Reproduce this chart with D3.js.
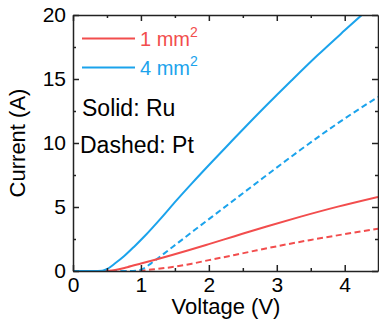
<!DOCTYPE html>
<html>
<head>
<meta charset="utf-8">
<script src="https://cdn.jsdelivr.net/npm/d3@7"></script>
<style>
  body { margin: 0; background: #fff; }
  text { font-family: "Liberation Sans", Arial, sans-serif; }
</style>
</head>
<body>
<script>
// values
const ruBigV = [0, 0.3, 0.43, 0.5, 0.62, 0.75, 0.9, 1.06, 1.3, 1.52, 1.75, 2.04, 2.31, 2.7, 3.0, 3.22, 3.6, 4.0, 4.25];
const ruBigI = [0, 0, 0.02, 0.15, 0.6, 1.15, 1.9, 2.75, 4.15, 5.5, 6.85, 8.5, 10.0, 12.15, 13.75, 14.9, 16.85, 18.8, 20];
const ptBigV = [0, 0.85, 0.92, 1.01, 1.15, 1.3, 1.55, 1.79, 2.05, 2.33, 2.8, 3.34, 3.9, 4.49];
const ptBigI = [0, 0, 0.02, 0.12, 0.6, 1.2, 2.22, 3.2, 4.25, 5.38, 7.28, 9.43, 11.55, 13.6];
const ruSmallV = [0, 0.45, 0.52, 0.62, 0.8, 1.0, 1.21, 1.7, 2.0, 2.38, 2.85, 3.34, 3.9, 4.49];
const ruSmallI = [0, 0, 0.02, 0.08, 0.3, 0.58, 0.88, 1.62, 2.1, 2.72, 3.48, 4.23, 5.03, 5.79];
const ptSmallV = [0, 0.88, 1.0, 1.2, 1.5, 1.75, 2.0, 2.38, 2.71, 3.0, 3.5, 4.0, 4.49];
const ptSmallI = [0, 0, 0.03, 0.14, 0.34, 0.57, 0.85, 1.25, 1.62, 1.93, 2.43, 2.88, 3.3];

const xTicks = [0, 1, 2, 3, 4];
const yTicks = [0, 5, 10, 15, 20];

const red = '#f24d4d';
const blue = '#1ba3ec';

const width = 379, height = 324;
const margin = { left: 73, right: 1, top: 15, bottom: 53 };

const svg = d3.select('body').append('svg')
  .attr('width', width)
  .attr('height', height);

const x = d3.scaleLinear().domain([0, 4.49]).range([margin.left, width - margin.right]);
const y = d3.scaleLinear().domain([0, 20]).range([height - margin.bottom, margin.top]);

svg.append('clipPath').attr('id', 'clip')
  .append('rect')
  .attr('x', margin.left).attr('y', margin.top)
  .attr('width', width - margin.right - margin.left)
  .attr('height', height - margin.bottom - margin.top);

const line = d3.line().x(d => x(d[0])).y(d => y(d[1])).curve(d3.curveMonotoneX);

const series = [
  { v: ptSmallV, i: ptSmallI, color: red, dash: '6,3.5' },
  { v: ptBigV, i: ptBigI, color: blue, dash: '6,3.5' },
  { v: ruSmallV, i: ruSmallI, color: red, dash: null },
  { v: ruBigV, i: ruBigI, color: blue, dash: null }
];

const plot = svg.append('g').attr('clip-path', 'url(#clip)');
series.forEach(s => {
  plot.append('path')
    .datum(d3.zip(s.v, s.i))
    .attr('d', line)
    .attr('fill', 'none')
    .attr('stroke', s.color)
    .attr('stroke-width', 2)
    .attr('stroke-dasharray', s.dash);
});

// axes, ticks inward, mirrored on top and right
const xMinor = d3.range(0.5, 4.5, 1);
const yMinor = d3.range(2.5, 20, 5);
const fmt = d3.format('d');

svg.append('g')
  .attr('transform', `translate(0,${y(0)})`)
  .call(d3.axisBottom(x).tickValues(xTicks).tickFormat(fmt).tickSize(-6).tickPadding(6).tickSizeOuter(0))
  .call(g => g.selectAll('text').attr('font-size', 21).attr('fill', '#000'));
svg.append('g')
  .attr('transform', `translate(0,${y(0)})`)
  .call(d3.axisBottom(x).tickValues(xMinor).tickSize(-3).tickFormat('').tickSizeOuter(0))
  .call(g => g.select('.domain').remove());

svg.append('g')
  .attr('transform', `translate(0,${y(20)})`)
  .call(d3.axisTop(x).tickValues(xTicks).tickSize(-6).tickFormat('').tickSizeOuter(0));
svg.append('g')
  .attr('transform', `translate(0,${y(20)})`)
  .call(d3.axisTop(x).tickValues(xMinor).tickSize(-3).tickFormat('').tickSizeOuter(0))
  .call(g => g.select('.domain').remove());

svg.append('g')
  .attr('transform', `translate(${x(0)},0)`)
  .call(d3.axisLeft(y).tickValues(yTicks).tickFormat(fmt).tickSize(-6).tickPadding(7).tickSizeOuter(0))
  .call(g => g.selectAll('text').attr('font-size', 21).attr('fill', '#000'));
svg.append('g')
  .attr('transform', `translate(${x(0)},0)`)
  .call(d3.axisLeft(y).tickValues(yMinor).tickSize(-3).tickFormat('').tickSizeOuter(0))
  .call(g => g.select('.domain').remove());

svg.append('g')
  .attr('transform', `translate(${x(4.49)},0)`)
  .call(d3.axisRight(y).tickValues(yTicks).tickSize(-6).tickFormat('').tickSizeOuter(0));
svg.append('g')
  .attr('transform', `translate(${x(4.49)},0)`)
  .call(d3.axisRight(y).tickValues(yMinor).tickSize(-3).tickFormat('').tickSizeOuter(0))
  .call(g => g.select('.domain').remove());

svg.selectAll('.domain, .tick line').attr('stroke', '#222').attr('stroke-width', 1.5);

// axis titles
svg.append('text')
  .attr('x', 226)
  .attr('y', 314)
  .attr('text-anchor', 'middle')
  .attr('font-size', 22)
  .text('Voltage (V)');

svg.append('text')
  .attr('transform', `translate(25,${(y(0) + y(20)) / 2}) rotate(-90)`)
  .attr('text-anchor', 'middle')
  .attr('font-size', 22)
  .text('Current (A)');

// legend
const legend = [
  { label: '1 mm', color: red, y: 38.5 },
  { label: '4 mm', color: blue, y: 67.5 }
];
legend.forEach(l => {
  svg.append('line')
    .attr('x1', 82).attr('x2', 135)
    .attr('y1', l.y).attr('y2', l.y)
    .attr('stroke', l.color).attr('stroke-width', 2);
  const t = svg.append('text')
    .attr('x', 140).attr('y', l.y + 7)
    .attr('font-size', 20)
    .attr('fill', l.color)
    .text(l.label);
  t.append('tspan').attr('dy', -9).attr('font-size', 14).text('2');
});

svg.append('text').attr('x', 82).attr('y', 116).attr('font-size', 23).text('Solid: Ru');
svg.append('text').attr('x', 80).attr('y', 153).attr('font-size', 23).text('Dashed: Pt');
</script>
</body>
</html>
